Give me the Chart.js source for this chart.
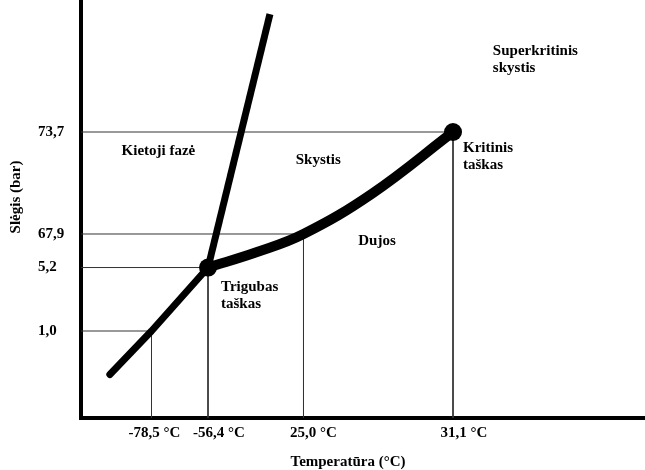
<!DOCTYPE html>
<html lang="lt">
<head>
<meta charset="utf-8">
<title>Anglies dioksido fazių diagrama</title>
<script src="https://cdn.jsdelivr.net/npm/chart.js@4.4.1/dist/chart.umd.min.js"></script>
<style>
  html, body { margin: 0; padding: 0; background: #fff; }
  #wrap { width: 645px; height: 470px; }
</style>
</head>
<body>
<div id="wrap"><canvas id="phase" width="645" height="470"></canvas></div>
<script>
// Characteristic state points: the same index pairs a temperature with a pressure
const tempTicks = [-78.5, -56.4, 25.0, 31.1];
const tempLabels = ['-78,5 °C', '-56,4 °C', '25,0 °C', '31,1 °C'];
const pressTicks = [1.0, 5.2, 67.9, 73.7];
const pressLabels = ['1,0', '5,2', '67,9', '73,7'];

// Axis extent (°C, bar)
const tempRange = [-100, 60];
const pressRange = [0, 100];

// Phase boundaries
const sublimationT = [-91.2, -78.5, -56.4];
const sublimationP = [0.5, 1.0, 5.2];
const meltingT = [-56.4, -3.6];
const meltingP = [5.2, 97.2];
const boilingT = [-56.4, -14.6, 25.0, 27.8, 31.1];
const boilingP = [5.2, 34.2, 67.9, 70.2, 73.7];

// Special points
const triplePoint = [-56.4, 5.2];
const criticalPoint = [31.1, 73.7];

// Phase region names and where they sit (°C, bar)
const regionNames = [['Kietoji fazė'], ['Skystis'], ['Dujos'], ['Superkritinis', 'skystis']];
const regionT = [-75.8, 25.6, 28.0, 37.1];
const regionP = [72.4, 71.9, 47.3, 89.0];

// ---------------------------------------------------------------------------
// The diagram is not to scale: each axis is stretched piecewise so that the
// marked values land at fixed fractions of the axis length.
const axisFractions = {
  x: [0, 0.1250, 0.2252, 0.3945, 0.6596, 1],
  y: [0, 0.2081, 0.3600, 0.4402, 0.6842, 1]
};
// Small horizontal nudges for the temperature captions (px)
const tickShift = { x: [3, 11, 10, 11], y: [0, 0, 0, 0] };

function axisStops(id) {
  const vals = id === 'x'
    ? [tempRange[0], ...tempTicks, tempRange[1]]
    : [pressRange[0], ...pressTicks, pressRange[1]];
  return vals.map((v, i) => [v, axisFractions[id][i]]);
}

class SchematicScale extends Chart.LinearScale {
  toDecimal(v) {
    const s = axisStops(this.id);
    if (v <= s[0][0]) return s[0][1];
    for (let i = 1; i < s.length; i++) {
      if (v <= s[i][0]) {
        const [v0, f0] = s[i - 1], [v1, f1] = s[i];
        return f0 + (v - v0) / (v1 - v0) * (f1 - f0);
      }
    }
    return s[s.length - 1][1];
  }
  fromDecimal(d) {
    const s = axisStops(this.id);
    for (let i = 1; i < s.length; i++) {
      if (d <= s[i][1]) {
        const [v0, f0] = s[i - 1], [v1, f1] = s[i];
        return v0 + (d - f0) / (f1 - f0) * (v1 - v0);
      }
    }
    return s[s.length - 1][0];
  }
  getPixelForValue(v) {
    if (v === null || v === undefined || isNaN(v)) return NaN;
    return this.getPixelForDecimal(this.toDecimal(v));
  }
  getValueForPixel(px) {
    return this.fromDecimal(this.getDecimalForPixel(px));
  }
  getPixelForTick(i) {
    const base = super.getPixelForTick(i);
    return base === null ? null : base + ((tickShift[this.id] || [])[i] || 0);
  }
}
SchematicScale.id = 'schematic';
SchematicScale.defaults = Chart.LinearScale.defaults;
Chart.register(SchematicScale);

// ---------------------------------------------------------------------------
const pts = (xs, ys) => xs.map((x, i) => ({ x, y: ys[i] }));

// Guide lines from each state point to both axes
const guideSets = tempTicks.map((t, i) => ({
  label: 'guide ' + i,
  data: [
    { x: tempRange[0], y: pressTicks[i] },
    { x: t, y: pressTicks[i] },
    { x: t, y: pressRange[0] }
  ],
  showLine: true,
  borderColor: '#333',
  borderWidth: 1,
  pointRadius: 0,
  order: 10
}));

const curveStyle = { showLine: true, borderColor: '#000', pointRadius: 0, borderCapStyle: 'round', borderJoinStyle: 'round' };

const datasets = [
  {
    label: 'points',
    data: [{ x: triplePoint[0], y: triplePoint[1] }, { x: criticalPoint[0], y: criticalPoint[1] }],
    pointRadius: 9,
    pointBackgroundColor: '#000',
    pointBorderWidth: 0,
    showLine: false,
    order: 0
  },
  Object.assign({ label: 'boiling', data: pts(boilingT, boilingP), borderWidth: 10, tension: 0.4, order: 1 }, curveStyle),
  Object.assign({ label: 'melting', data: pts(meltingT, meltingP), borderWidth: 7, order: 2 }, curveStyle, { borderCapStyle: 'butt' }),
  Object.assign({ label: 'sublimation', data: pts(sublimationT, sublimationP), borderWidth: 7, order: 3 }, curveStyle),
  ...guideSets
];

const LABEL_FONT = 'bold 15px "Liberation Serif", "Times New Roman", serif';

// Region names and point captions
const phaseLabels = {
  id: 'phaseLabels',
  afterDatasetsDraw(chart) {
    const { ctx, scales: { x, y } } = chart;
    ctx.save();
    ctx.font = LABEL_FONT;
    ctx.fillStyle = '#000';
    ctx.textBaseline = 'alphabetic';
    const lineGap = 17;
    regionNames.forEach((lines, i) => {
      const px = x.getPixelForValue(regionT[i]);
      const py = y.getPixelForValue(regionP[i]);
      ctx.textAlign = lines.length > 1 ? 'left' : 'center';
      lines.forEach((ln, k) => ctx.fillText(ln, px, py + k * lineGap));
    });
    const caption = (p, lines, dx, dy) => {
      const px = x.getPixelForValue(p[0]) + dx;
      const py = y.getPixelForValue(p[1]) + dy;
      ctx.textAlign = 'left';
      lines.forEach((ln, k) => ctx.fillText(ln, px, py + k * lineGap));
    };
    caption(triplePoint, ['Trigubas', 'taškas'], 13, 23);
    caption(criticalPoint, ['Kritinis', 'taškas'], 10, 20);
    ctx.restore();
  }
};

// Axis captions
const axisTitles = {
  id: 'axisTitles',
  afterDraw(chart) {
    const { ctx, chartArea } = chart;
    ctx.save();
    ctx.font = LABEL_FONT;
    ctx.fillStyle = '#000';
    ctx.textAlign = 'center';
    ctx.textBaseline = 'middle';
    ctx.fillText('Temperatūra (°C)', chartArea.left + 267, chart.height - 8);
    ctx.translate(16, chartArea.top + 197);
    ctx.rotate(-Math.PI / 2);
    ctx.fillText('Slėgis (bar)', 0, 0);
    ctx.restore();
  }
};

const tickFont = { family: '"Liberation Serif", "Times New Roman", serif', size: 15, weight: 'bold' };

new Chart(document.getElementById('phase'), {
  type: 'scatter',
  data: { datasets },
  options: {
    responsive: false,
    animation: false,
    events: [],
    layout: { padding: 0, autoPadding: false },
    plugins: { legend: { display: false }, tooltip: { enabled: false }, title: { display: false } },
    scales: {
      x: {
        type: 'schematic',
        position: 'bottom',
        min: tempRange[0],
        max: tempRange[1],
        afterBuildTicks: s => { s.ticks = tempTicks.map(v => ({ value: v })); },
        afterFit: s => { s.height = 52; },
        grid: { display: false, drawTicks: false },
        border: { display: true, width: 4, color: '#000' },
        ticks: {
          autoSkip: false,
          maxRotation: 0,
          padding: 6,
          color: '#000',
          font: tickFont,
          callback: (v, i) => tempLabels[i]
        }
      },
      y: {
        type: 'schematic',
        position: 'left',
        min: pressRange[0],
        max: pressRange[1],
        afterBuildTicks: s => { s.ticks = pressTicks.map(v => ({ value: v })); },
        afterFit: s => { s.width = 81; },
        grid: { display: false, drawTicks: false },
        border: { display: true, width: 4, color: '#000' },
        ticks: {
          autoSkip: false,
          mirror: true,
          padding: -43,
          color: '#000',
          font: tickFont,
          callback: (v, i) => pressLabels[i]
        }
      }
    }
  },
  plugins: [phaseLabels, axisTitles]
});
</script>
</body>
</html>
